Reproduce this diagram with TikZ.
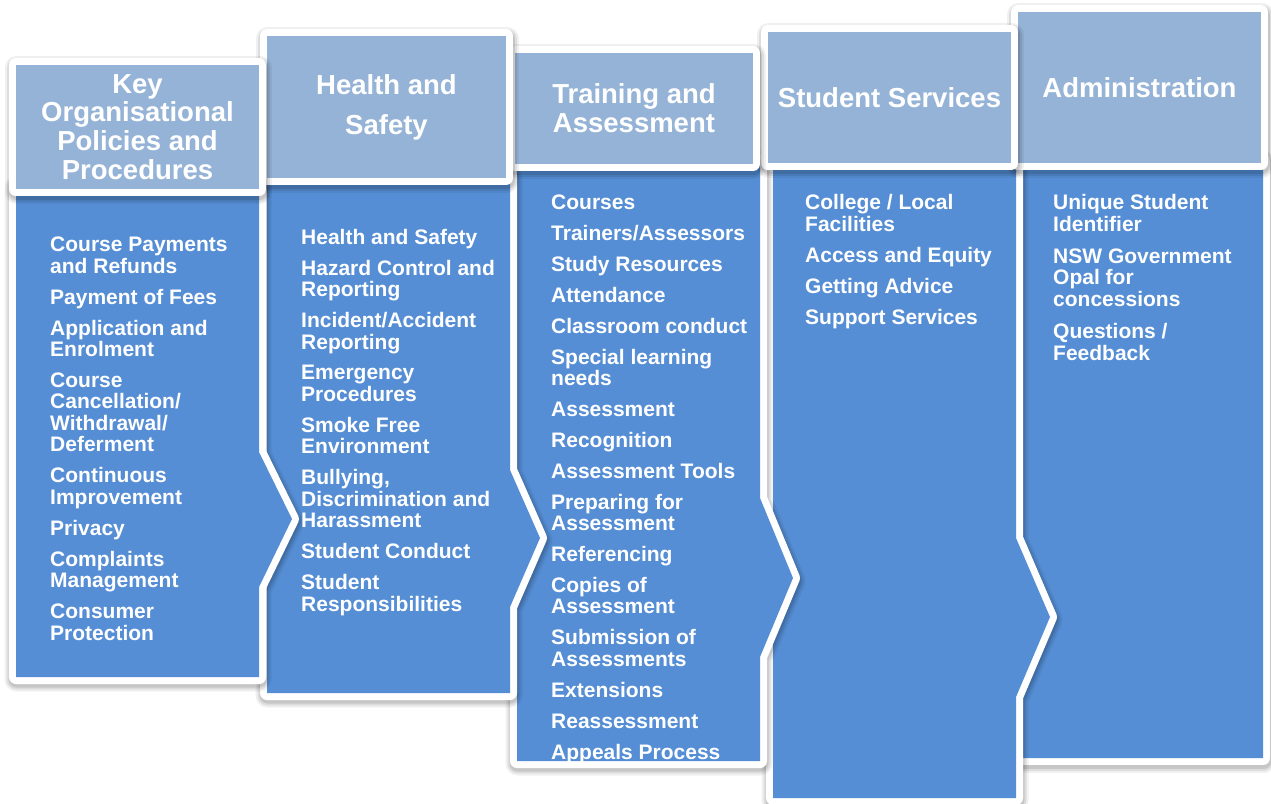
\documentclass[tikz,border=0pt]{standalone}
\usepackage{fontspec}
\setmainfont{Liberation Sans}

\definecolor{bodyblue}{RGB}{85,142,213}
\definecolor{headblue}{RGB}{149,179,215}

\tikzset{
  rimshade/.style={draw=black, fill=black, line join=round, opacity=#1, shift={(0.5,2.5)}},
  rim/.style={draw=white, line width=14pt, line join=round, fill=white},
  headbox/.style={rectangle, fill=headblue, inner sep=0pt, text=white, align=center,
      font=\bfseries\fontsize{27.5}{28.7}\selectfont},
  % anchored at the baseline of the last line
  itemlist/.style={anchor=base west, inner sep=0pt, align=left, text=white,
      font=\bfseries\fontsize{21}{21.5}\selectfont},
}
\newcommand{\itemgap}{\\[9.4pt]}

\begin{document}
\begin{tikzpicture}[x=1pt, y=-1pt]

  \useasboundingbox (0,0) rectangle (1271,803);

  % Column bodies, right one first
  \foreach \l/\r/\t/\b/\ya/\px/\py/\yb in {
      1023/1263/160/758/400/1263/400/400,
      773/1016/160/798/538/1050/617/697,
      517/760/160/761/498/793/578/657,
      267/510/175/693/470/540/538/607,
      16/259/185/677/452/292/519/587} {
    \def\colpath{(\l,\t) -- (\r,\t) -- (\r,\ya) -- (\px,\py) -- (\r,\yb) -- (\r,\b) -- (\l,\b) -- cycle}
    \foreach \w/\o in {24/0.06, 20/0.08, 16/0.1}
      \path[rimshade=\o, line width=\w pt] \colpath;
    \path[rim] \colpath;
    \fill[bodyblue] \colpath;
  }

  % Headers, right one first
  \foreach \cx/\cy/\w/\h/\name/\txt in {
      1139.5/87.5/243/151/hadmin/{Administration},
      889.5/97.5/243/131/hservices/{Student Services},
      634/108.5/238/111/htraining/{Training and\\Assessment},
      386.5/107/239/142/hhealth/{Health and\\[11.3pt]Safety},
      137.5/127/243/124/hkey/{Key\\Organisational\\Policies and\\Procedures}} {
    \def\headpath{({\cx-\w/2},{\cy-\h/2}) rectangle ({\cx+\w/2},{\cy+\h/2})}
    \foreach \s/\o in {24/0.06, 20/0.08, 16/0.1}
      \path[rimshade=\o, line width=\s pt] \headpath;
    \path[rim] \headpath;
    \node[headbox, minimum width=\w pt, minimum height=\h pt] (\name) at (\cx,\cy) {\txt};
  }

  % Lists
  \node[itemlist] (lkey) at (50,640) {Course Payments\\and Refunds\itemgap
    Payment of Fees\itemgap
    Application and\\Enrolment\itemgap
    Course\\Cancellation/\\Withdrawal/\\Deferment\itemgap
    Continuous\\Improvement\itemgap
    Privacy\itemgap
    Complaints\\Management\itemgap
    Consumer\\Protection};
  \node[itemlist] (lhealth) at (301,611) {Health and Safety\itemgap
    Hazard Control and\\Reporting\itemgap
    Incident/Accident\\Reporting\itemgap
    Emergency\\Procedures\itemgap
    Smoke Free\\Environment\itemgap
    Bullying,\\Discrimination and\\Harassment\itemgap
    Student Conduct\itemgap
    Student\\Responsibilities};
  \node[itemlist] (ltraining) at (551,759) {Courses\itemgap
    Trainers/Assessors\itemgap
    Study Resources\itemgap
    Attendance\itemgap
    Classroom conduct\itemgap
    Special learning\\needs\itemgap
    Assessment\itemgap
    Recognition\itemgap
    Assessment Tools\itemgap
    Preparing for\\Assessment\itemgap
    Referencing\itemgap
    Copies of\\Assessment\itemgap
    Submission of\\Assessments\itemgap
    Extensions\itemgap
    Reassessment\itemgap
    Appeals Process};
  \node[itemlist] (lservices) at (805,324) {College / Local\\Facilities\itemgap
    Access and Equity\itemgap
    Getting Advice\itemgap
    Support Services};
  \node[itemlist, font=\bfseries\fontsize{21}{21.7}\selectfont] (ladmin) at (1053,360) {Unique Student\\Identifier\\[10pt]
    NSW Government\\Opal for\\concessions\\[10pt]
    Questions /\\Feedback};

\end{tikzpicture}
\end{document}
